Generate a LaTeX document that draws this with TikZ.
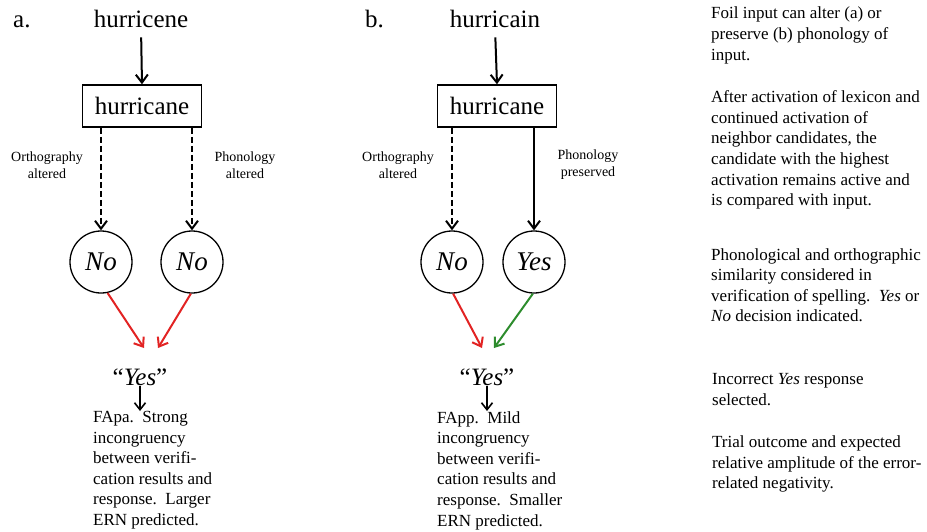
\documentclass[tikz,border=0pt]{standalone}
\usepackage{fontspec}
\setmainfont{Liberation Serif}
\usetikzlibrary{arrows.meta}
\definecolor{myred}{RGB}{226,35,35}
\definecolor{mygreen}{RGB}{45,140,45}
\begin{document}
\begin{tikzpicture}[x=1pt,y=-1pt,
  big/.style={font=\fontsize{25}{30}\selectfont, inner sep=0pt},
  wordbox/.style={draw, line width=1.5pt, minimum width=119pt, minimum height=42pt, inner sep=0pt, font=\fontsize{25}{30}\selectfont},
  dec/.style={draw, circle, line width=1.3pt, minimum size=62pt, inner sep=0pt, font=\fontsize{27}{30}\selectfont\itshape},
  lab/.style={align=center, font=\fontsize{14}{17}\selectfont, inner sep=0pt},
  para/.style={align=left, font=\fontsize{17}{20.6}\selectfont, inner sep=0pt, anchor=north west},
  conn/.style={line width=2pt, -{Straight Barb[length=8pt,width=12pt]}},
  dconn/.style={conn, dash pattern=on 6pt off 3pt},
  small/.style={line width=1.6pt, -{Straight Barb[length=7pt,width=11pt]}}
]
\useasboundingbox (0,0) rectangle (927,531);

% ---------- panel a ----------
\node[big, anchor=base west] (la) at (13,27) {a.};
\node[big, anchor=base] (wa) at (141,27) {hurricene};
\node[wordbox] (ba) at (142,106) {hurricane};
\node[dec] (a1) at (101,262) {No};
\node[dec] (a2) at (192,262) {No};
\node[lab] (oa) at (47,165) {Orthography\\altered};
\node[lab] (pa) at (245,165) {Phonology\\altered};
\coordinate (ea1) at (144,348);
\coordinate (ea2) at (158,348);
\node[big] (ya) at (140,377) {“\textit{Yes}”};
\node[para] (ta) at (93,411) {FApa.\ \ Strong\\incongruency\\between verifi-\\cation results and\\response.\ \ Larger\\ERN predicted.};

\draw[conn, shorten <=10pt] (wa.south) -- (ba.north);
\draw[dconn] (ba.south -| a1) -- (a1.north);
\draw[dconn] (ba.south -| a2) -- (a2.north);
\draw[conn, myred] (a1.-78) -- (ea1);
\draw[conn, myred] (a2.-92) -- (ea2);
\draw[small] (ya.south) -- (ya.south |- ta.north);

% ---------- panel b ----------
\node[big, anchor=base west] (lb) at (365,27) {b.};
\node[big, anchor=base] (wb) at (495,27) {hurricain};
\node[wordbox] (bb) at (497,106) {hurricane};
\node[dec] (b1) at (452,262) {No};
\node[dec] (b2) at (534,262) {Yes};
\node[lab] (ob) at (398,165) {Orthography\\altered};
\node[lab] (pb) at (588,165) {Phonology\\preserved};
\coordinate (eb1) at (482,348);
\coordinate (eb2) at (494,348);
\node[big] (yb) at (487,377) {“\textit{Yes}”};
\node[para] (tb) at (437,411) {FApp.\ \ Mild\\incongruency\\between verifi-\\cation results and\\response.\ \ Smaller\\ERN predicted.};

\draw[conn, shorten <=10pt] (wb.south) -- (bb.north);
\draw[dconn] (bb.south -| b1) -- (b1.north);
\draw[conn] (bb.south -| b2) -- (b2.north);
\draw[conn, myred] (b1.-88) -- (eb1);
\draw[conn, mygreen] (b2.-92) -- (eb2);
\draw[small] (yb.south) -- (yb.south |- tb.north);

% ---------- right column ----------
\node[para] (r1) at (711,7) {Foil input can alter (a) or\\preserve (b) phonology of\\input.};
\node[para] (r2) at (711,90.5) {After activation of lexicon and\\continued activation of\\neighbor candidates, the\\candidate with the highest\\activation remains active and\\is compared with input.};
\node[para] (r3) at (711,248) {Phonological and orthographic\\similarity considered in\\verification of spelling.\ \ \textit{Yes} or\\\textit{No} decision indicated.};
\node[para] (r4) at (712,373.5) {Incorrect \textit{Yes} response\\selected.};
\node[para] (r5) at (712,435.5) {Trial outcome and expected\\relative amplitude of the error-\\related negativity.};
\end{tikzpicture}
\end{document}
